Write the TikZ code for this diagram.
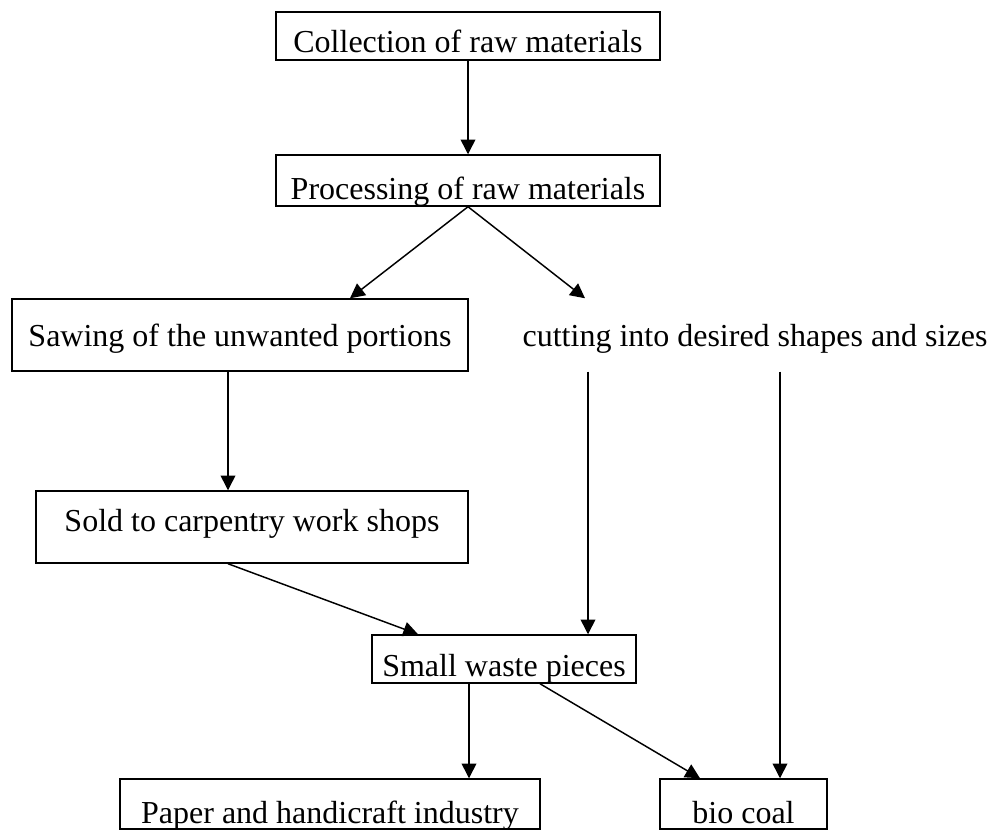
\documentclass[tikz,border=0pt]{standalone}
\usepackage{fontspec}
\setmainfont{Liberation Serif}
\usetikzlibrary{arrows.meta}
\begin{document}
\begin{tikzpicture}
[x=0.75pt,y=-0.75pt,every node/.style={draw,line width=1.1pt,inner sep=0pt,text depth=0pt,font=\fontsize{24}{28}\selectfont}]
\useasboundingbox (0,0) rectangle (998,831);
\node[minimum width=288pt,minimum height=36pt,text height=25.5pt] (coll) at (468,36) {Collection of raw materials};
\node[minimum width=288pt,minimum height=38.25pt,text height=27.75pt] (proc) at (468,180.5) {Processing of raw materials};
\node[minimum width=342pt,minimum height=54pt,text height=16.5pt] (saw) at (240,335) {Sawing of the unwanted portions};
\node[draw=none,minimum height=54pt,text height=16.5pt] (cut) at (755,335) {cutting into desired shapes and sizes};
\node[minimum width=324pt,minimum height=54pt,text height=6pt] (sold) at (252,527) {Sold to carpentry work shops};
\node[minimum width=198pt,minimum height=36pt,text height=25.5pt] (waste) at (504,659) {Small waste pieces};
\node[minimum width=315pt,minimum height=37.5pt,text height=28.5pt] (paper) at (330,804) {Paper and handicraft industry};
\node[minimum width=125.25pt,minimum height=37.5pt,text height=28.5pt] (bio) at (743.5,804) {bio coal};
\tikzset{arr/.style={-{Triangle[length=11pt,width=11pt]},line width=1.1pt}}
\coordinate (cutL) at ([xshift=-125.25pt]cut.south);
\coordinate (cutR) at ([xshift=18.75pt]cut.south);
\draw[arr] (coll) -- (proc);
\draw[arr] (proc.south) -- ([xshift=82.5pt]saw.north);
\draw[arr] (proc.south) -- ([xshift=-127.5pt]cut.north);
\draw[arr] ([xshift=-9pt]saw.south) -- ([xshift=-9pt]saw.south |- sold.north);
\draw[arr] ([xshift=-18pt]sold.south) -- ([xshift=-64.5pt]waste.north);
\draw[arr] (cutL) -- (cutL |- waste.north);
\draw[arr] (cutR) -- (cutR |- bio.north);
\draw[arr] ([xshift=-26.25pt]waste.south) -- ([xshift=-26.25pt]waste.south |- paper.north);
\draw[arr] ([xshift=27pt]waste.south) -- ([xshift=-32.625pt]bio.north);
\end{tikzpicture}
\end{document}
